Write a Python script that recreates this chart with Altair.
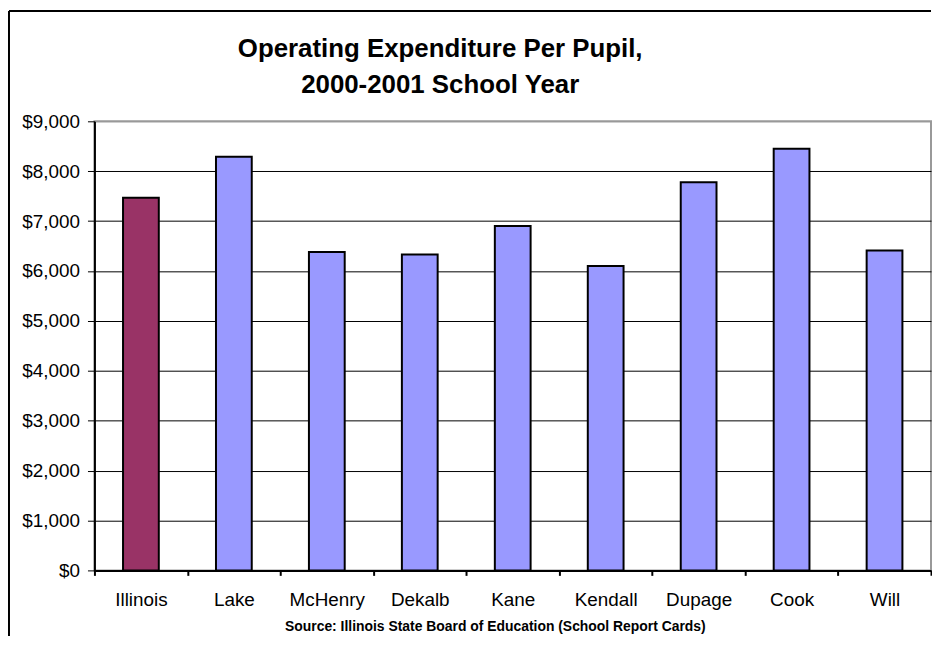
import altair as alt
import pandas as pd

# ---- data ----
counties = ["Illinois", "Lake", "McHenry", "Dekalb", "Kane", "Kendall", "Dupage", "Cook", "Will"]
spending = [7470, 8290, 6380, 6330, 6900, 6100, 7780, 8450, 6410]
bar_colors = ["#993366", "#9999FF", "#9999FF", "#9999FF", "#9999FF",
              "#9999FF", "#9999FF", "#9999FF", "#9999FF"]
y_ticks = [0, 1000, 2000, 3000, 4000, 5000, 6000, 7000, 8000, 9000]
title_lines = ["Operating Expenditure Per Pupil,", "2000-2001 School Year"]
source_note = "Source: Illinois State Board of Education (School Report Cards)"

df = pd.DataFrame({"county": counties, "spending": spending, "color": bar_colors})

W, H = 842, 452
FONT = "Liberation Sans"

bars = alt.Chart(df).mark_bar(size=36, stroke="black", strokeWidth=2).encode(
    x=alt.X(
        "county:N",
        sort=counties,
        scale=alt.Scale(paddingInner=0, paddingOuter=0),
        axis=alt.Axis(
            title=source_note,
            labelAngle=0,
            tickBand="extent",
            grid=False,
            domainColor="black",
            domainWidth=2,
            tickColor="black",
            tickSize=5,
            tickWidth=2,
            labelFont=FONT,
            labelFontSize=19,
            labelColor="black",
            labelPadding=15,
            titleFont=FONT,
            titleFontSize=14,
            titleFontWeight="bold",
            titleColor="black",
            titleX=403,
            titleY=60,
            titleAlign="center",
            titleBaseline="alphabetic",
        ),
    ),
    y=alt.Y(
        "spending:Q",
        scale=alt.Scale(domain=[0, 9000], nice=False),
        axis=alt.Axis(
            values=y_ticks,
            format="$,.0f",
            title=None,
            grid=True,
            gridWidth=1,
            gridColor={"condition": {"test": "datum.value === 9000", "value": "#999999"}, "value": "black"},
            domainColor="black",
            domainWidth=2,
            tickColor="black",
            tickSize=7,
            tickWidth=1,
            labelFont=FONT,
            labelFontSize=19,
            labelColor="black",
            labelPadding=8,
        ),
    ),
    color=alt.Color("color:N", scale=None, legend=None),
)

one = pd.DataFrame({"k": [0]})

title1 = alt.Chart(pd.DataFrame({"t": [title_lines[0]]})).mark_text(
    font=FONT, fontSize=26, fontWeight="bold", color="black",
    align="center", baseline="alphabetic"
).encode(text="t:N", x=alt.value(348), y=alt.value(-65))

title2 = alt.Chart(pd.DataFrame({"t": [title_lines[1]]})).mark_text(
    font=FONT, fontSize=26, fontWeight="bold", color="black",
    align="center", baseline="alphabetic"
).encode(text="t:N", x=alt.value(348), y=alt.value(-28))

border_left = alt.Chart(one).mark_rule(color="black", strokeWidth=2).encode(
    x=alt.value(-86), y=alt.value(-111), y2=alt.value(518)
)
border_top = alt.Chart(one).mark_rule(color="black", strokeWidth=2).encode(
    x=alt.value(-86), x2=alt.value(W), y=alt.value(-111)
)

chart = alt.layer(bars, title1, title2, border_left, border_top).properties(
    width=W,
    height=H,
    padding=0,
    autosize=alt.AutoSizeParams(type="pad"),
    background="white",
).configure_view(
    stroke="#999999",
    strokeWidth=2,
)

chart.save("out.html", embed_options={"renderer": "svg", "actions": False})
